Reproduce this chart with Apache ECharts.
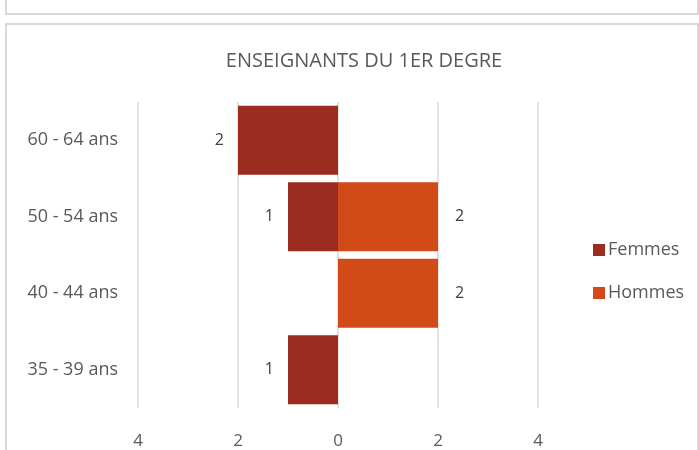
<!DOCTYPE html>
<html>
<head>
<meta charset="utf-8">
<script src="https://cdn.jsdelivr.net/npm/echarts@6/dist/echarts.min.js"></script>
<style>
  html, body { margin: 0; padding: 0; background: #fff; overflow: hidden; }
  #topbox { position: absolute; left: 5px; top: -10px; width: 690px; height: 21px; border: 2px solid #d9d9d9; }
  #box { position: absolute; left: 5px; top: 23px; width: 690px; height: 440px; border: 2px solid #d9d9d9; border-bottom: none; }
  #chart { position: absolute; left: 0; top: 0; width: 699px; height: 450px; }
</style>
</head>
<body>
<div id="topbox"></div>
<div id="box"></div>
<div id="chart"></div>
<script>
// tranches d'age, du bas vers le haut
const categories = ['35 - 39 ans', '40 - 44 ans', '50 - 54 ans', '60 - 64 ans']
// femmes en negatif (cote gauche), hommes en positif
const femmes = [-1, null, -1, -2]
const hommes = [null, 2, 2, null]
const xTicks = [-4, -2, 0, 2, 4]

const chart = echarts.init(document.getElementById('chart'))
const txt = '#595959'
const fontFam = '"Open Sans", Lato, sans-serif'

chart.setOption({
    animation: false,
    textStyle: {fontFamily: fontFam},
    title: {
        text: 'ENSEIGNANTS DU 1ER DEGRE',
        left: 359, top: 46, textAlign: 'center',
        textStyle: {color: txt, fontSize: 20, fontWeight: 'normal', fontFamily: fontFam}
    },
    legend: {
        orient: 'vertical', left: 588, top: 236,
        itemWidth: 12, itemHeight: 12, itemGap: 25,
        icon: 'rect',
        textStyle: {color: txt, fontSize: 18, fontFamily: fontFam, padding: [0, 0, 0, -2]},
        data: ['Femmes', 'Hommes']
    },
    grid: {left: 138, right: 161, top: 102, bottom: 42},
    xAxis: {
        type: 'value', min: xTicks[0], max: xTicks[xTicks.length - 1], interval: 2,
        axisLine: {show: false}, axisTick: {show: false},
        splitLine: {lineStyle: {color: '#d9d9d9', width: 1.5}},
        axisLabel: {
            color: txt, fontSize: 17, margin: 25,
            formatter: v => Math.abs(v)
        }
    },
    yAxis: {
        type: 'category', data: categories,
        axisLine: {show: false}, axisTick: {show: false},
        axisLabel: {color: txt, fontSize: 18, margin: 20}
    },
    series: [
        {
            name: 'Femmes', type: 'bar', data: femmes,
            barCategoryGap: '10%', barGap: '-100%',
            itemStyle: {color: '#9b2c1f'},
            label: {
                show: true, position: 'left', distance: 14,
                color: '#404040', fontSize: 16,
                formatter: p => Math.abs(p.value)
            }
        },
        {
            name: 'Hommes', type: 'bar', data: hommes,
            barCategoryGap: '10%', barGap: '-100%',
            itemStyle: {color: '#d24a18'},
            label: {
                show: true, position: 'right', distance: 17,
                color: '#404040', fontSize: 16,
                formatter: p => Math.abs(p.value)
            }
        }
    ]
})
</script>
</body>
</html>
